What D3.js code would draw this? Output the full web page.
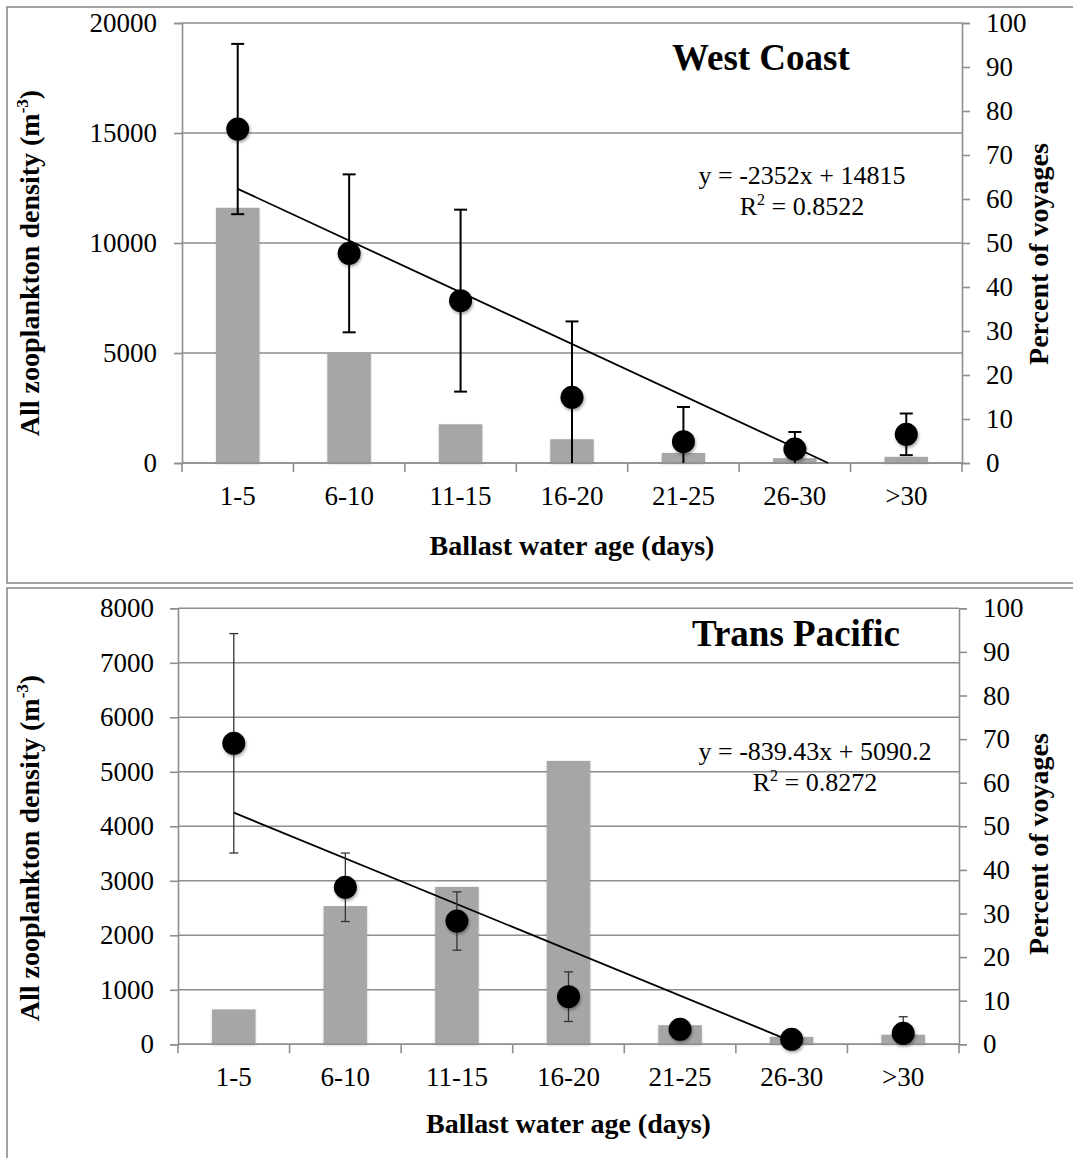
<!DOCTYPE html>
<html>
<head>
<meta charset="utf-8">
<script src="https://cdn.jsdelivr.net/npm/d3@7"></script>
<style>
  body { margin: 0; background: #fff; }
  text { font-family: "Liberation Serif", "Times New Roman", serif; fill: #000; }
</style>
</head>
<body>
<script>
var width = 1073,
    height = 1158;

// categories (ballast water age)
var ages = ["1-5", "6-10", "11-15", "16-20", "21-25", "26-30", ">30"];

// West Coast
var wcPercent = [58, 25, 8.8, 5.4, 2.3, 1.1, 1.4];
var wcDensity = [15180, 9530, 7380, 2985, 970, 636, 1303];
var wcError = [3870, 3590, 4135, 3450, 1575, 773, 947];
var wcFit = [-2352, 14815];

// Trans Pacific
var tpPercent = [8, 31.7, 36.1, 65, 4.4, 1.7, 2.2];
var tpDensity = [5523, 2881, 2262, 874, 275, 92, 202];
var tpError = [2013, 628, 535, 455, 120, 60, 304];
var tpFit = [-839.43, 5090.2];

var wcTicks = [0, 5000, 10000, 15000, 20000];
var tpTicks = [0, 1000, 2000, 3000, 4000, 5000, 6000, 7000, 8000];
var pctTicks = d3.range(0, 101, 10);

var svg = d3.select("body").append("svg")
    .attr("width", width)
    .attr("height", height);

var defs = svg.append("defs");
defs.append("filter").attr("id", "shadow")
    .attr("x", "-50%").attr("y", "-50%").attr("width", "200%").attr("height", "200%")
  .append("feDropShadow")
    .attr("dx", 1).attr("dy", 2).attr("stdDeviation", 1.6)
    .attr("flood-color", "#000").attr("flood-opacity", 0.35);
defs.append("filter").attr("id", "barshadow")
    .attr("x", "-20%").attr("y", "-20%").attr("width", "140%").attr("height", "140%")
  .append("feDropShadow")
    .attr("dx", 0).attr("dy", 1).attr("stdDeviation", 1.2)
    .attr("flood-color", "#000").attr("flood-opacity", 0.2);

// panel frames
svg.append("rect").attr("x", 7).attr("y", 7).attr("width", 1080).attr("height", 576)
    .attr("fill", "none").attr("stroke", "#8c8c8c").attr("stroke-width", 1.6);
svg.append("rect").attr("x", 7).attr("y", 588).attr("width", 1080).attr("height", 600)
    .attr("fill", "none").attr("stroke", "#8c8c8c").attr("stroke-width", 1.6);

function drawPanel(p) {
  var g = svg.append("g");

  var x = d3.scaleBand().domain(ages)
      .range([p.left, p.right])
      .paddingInner(0.61).paddingOuter(0.305);
  var y = d3.scaleLinear().domain([0, p.ymax]).range([p.bottom, p.top]);
  var y2 = d3.scaleLinear().domain([0, 100]).range([p.bottom, p.top]);
  var step = x.step();

  // gridlines
  g.append("g").selectAll("line").data(p.ticks).enter().append("line")
      .attr("x1", p.left).attr("x2", p.right)
      .attr("y1", function(d) { return y(d); }).attr("y2", function(d) { return y(d); })
      .attr("stroke", "#8e8e8e").attr("stroke-width", 1.4);

  // left axis
  var la = g.append("g").attr("transform", "translate(" + p.left + ",0)")
      .call(d3.axisLeft(y).tickValues(p.ticks).tickSize(8).tickPadding(p.lpad).tickFormat(d3.format("d")));
  // right axis
  var ra = g.append("g").attr("transform", "translate(" + p.right + ",0)")
      .call(d3.axisRight(y2).tickValues(pctTicks).tickSize(8).tickPadding(16).tickFormat(d3.format("d")));
  [la, ra].forEach(function(a) {
    a.select(".domain").attr("stroke", "#8e8e8e").attr("stroke-width", 1.6);
    a.selectAll(".tick line").attr("stroke", "#8e8e8e").attr("stroke-width", 1.6);
    a.selectAll("text").attr("font-size", 27).attr("font-family", "Liberation Serif").attr("fill", "#000");
  });

  // bars (percent of voyages)
  g.append("g").selectAll("rect").data(p.percent).enter().append("rect")
      .attr("x", function(d, i) { return x(ages[i]); })
      .attr("width", x.bandwidth())
      .attr("y", function(d) { return y2(d); })
      .attr("height", function(d) { return p.bottom - y2(d); })
      .attr("fill", "#a6a6a6")
      .attr("filter", "url(#barshadow)");

  // x axis line + boundary ticks
  g.append("line").attr("x1", p.left).attr("x2", p.right)
      .attr("y1", p.bottom).attr("y2", p.bottom)
      .attr("stroke", "#8e8e8e").attr("stroke-width", 1.6);
  g.append("g").selectAll("line").data(d3.range(ages.length + 1)).enter().append("line")
      .attr("x1", function(i) { return p.left + i * step; })
      .attr("x2", function(i) { return p.left + i * step; })
      .attr("y1", p.bottom).attr("y2", p.bottom + 9)
      .attr("stroke", "#8e8e8e").attr("stroke-width", 1.6);
  g.append("g").selectAll("text").data(ages).enter().append("text")
      .attr("x", function(d) { return x(d) + x.bandwidth() / 2; })
      .attr("y", p.bottom + 42)
      .attr("text-anchor", "middle")
      .attr("font-size", 27)
      .text(function(d) { return d; });

  // trendline, clipped at y = 0
  var xi = function(v) { return p.left + (v - 0.5) * step; };
  var xEnd = Math.min(ages.length, -p.fit[1] / p.fit[0]);
  g.append("line")
      .attr("x1", xi(1)).attr("y1", y(p.fit[0] * 1 + p.fit[1]))
      .attr("x2", xi(xEnd)).attr("y2", y(Math.max(0, p.fit[0] * xEnd + p.fit[1])))
      .attr("stroke", "#000").attr("stroke-width", 1.8);

  // error bars
  var eb = g.append("g").selectAll("g").data(p.density).enter().append("g")
      .attr("stroke", p.ecolor).attr("stroke-width", p.ew);
  eb.append("line")
      .attr("x1", function(d, i) { return xi(i + 1); })
      .attr("x2", function(d, i) { return xi(i + 1); })
      .attr("y1", function(d, i) { return y(d + p.err[i]); })
      .attr("y2", function(d, i) { return y(Math.max(0, d - p.err[i])); });
  eb.append("line")
      .attr("x1", function(d, i) { return xi(i + 1) - p.cap; })
      .attr("x2", function(d, i) { return xi(i + 1) + p.cap; })
      .attr("y1", function(d, i) { return y(d + p.err[i]); })
      .attr("y2", function(d, i) { return y(d + p.err[i]); });
  eb.filter(function(d, i) { return d - p.err[i] > 0; }).append("line")
      .attr("x1", function(d) { return xi(p.density.indexOf(d) + 1) - p.cap; })
      .attr("x2", function(d) { return xi(p.density.indexOf(d) + 1) + p.cap; })
      .attr("y1", function(d) { return y(d - p.err[p.density.indexOf(d)]); })
      .attr("y2", function(d) { return y(d - p.err[p.density.indexOf(d)]); });

  // points
  g.append("g").selectAll("circle").data(p.density).enter().append("circle")
      .attr("cx", function(d, i) { return xi(i + 1); })
      .attr("cy", function(d) { return y(d); })
      .attr("r", 11.5)
      .attr("fill", "#000")
      .attr("filter", "url(#shadow)");

  // titles
  g.append("text").attr("x", p.titleX).attr("y", p.titleY)
      .attr("font-size", 37).attr("font-weight", "bold")
      .text(p.title);
  g.append("text").attr("x", p.eqX).attr("y", p.eqY)
      .attr("text-anchor", "middle").attr("font-size", 26)
      .text(p.eq);
  var r2 = g.append("text").attr("x", p.eqX).attr("y", p.eqY + 31)
      .attr("text-anchor", "middle").attr("font-size", 26);
  r2.append("tspan").text("R");
  r2.append("tspan").attr("font-size", 16).attr("dy", -10).text("2");
  r2.append("tspan").attr("dy", 10).text(" = " + p.r2);

  g.append("text")
      .attr("x", (p.left + p.right) / 2).attr("y", p.xTitleY)
      .attr("text-anchor", "middle").attr("font-size", 28).attr("font-weight", "bold")
      .text("Ballast water age (days)");

  var lt = g.append("text")
      .attr("transform", "translate(39," + p.lTitleY + ") rotate(-90)")
      .attr("text-anchor", "middle").attr("font-size", 28).attr("font-weight", "bold");
  lt.append("tspan").text("All zooplankton density (m");
  lt.append("tspan").attr("font-size", 17).attr("dy", -11).text("-3");
  lt.append("tspan").attr("dy", 11).text(")");

  g.append("text")
      .attr("transform", "translate(1048," + p.rTitleY + ") rotate(-90)")
      .attr("text-anchor", "middle").attr("font-size", 28).attr("font-weight", "bold")
      .text("Percent of voyages");
}

drawPanel({
  left: 182, right: 962, top: 23, bottom: 463,
  ymax: 20000, ticks: wcTicks, lpad: 17,
  percent: wcPercent, density: wcDensity, err: wcError, fit: wcFit,
  ecolor: "#000", ew: 2, cap: 6.5,
  title: "West Coast", titleX: 672, titleY: 70,
  eq: "y = -2352x + 14815", r2: "0.8522", eqX: 802, eqY: 184,
  xTitleY: 555, lTitleY: 263, rTitleY: 254
});

drawPanel({
  left: 178, right: 959, top: 608.3, bottom: 1044.3,
  ymax: 8000, ticks: tpTicks, lpad: 16,
  percent: tpPercent, density: tpDensity, err: tpError, fit: tpFit,
  ecolor: "#333", ew: 1.3, cap: 4.5,
  title: "Trans Pacific", titleX: 692, titleY: 646,
  eq: "y = -839.43x + 5090.2", r2: "0.8272", eqX: 815, eqY: 760,
  xTitleY: 1133, lTitleY: 848, rTitleY: 844
});
</script>
</body>
</html>
